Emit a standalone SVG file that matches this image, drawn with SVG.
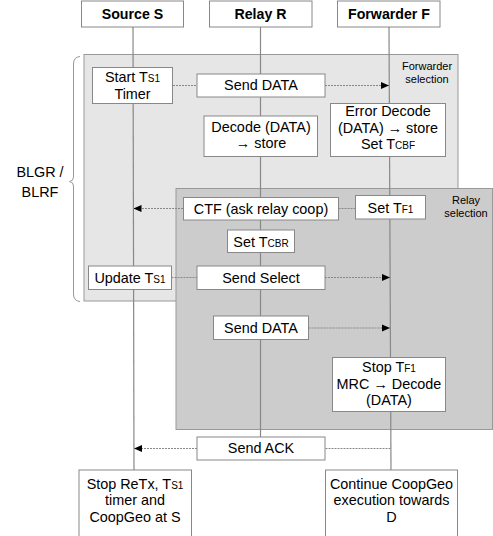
<svg xmlns="http://www.w3.org/2000/svg" width="493" height="536" viewBox="0 0 493 536">
<style>
text{font-family:"Liberation Sans",Arial,sans-serif;font-size:14.4px;fill:#000;text-anchor:middle}
.hdr{font-weight:bold;font-size:14.2px}
.sm{font-size:10px}
.lbl{font-size:11px}
.box{fill:#fff;stroke:#888;stroke-width:1}
.life{stroke:#888;stroke-width:1.2;fill:none}
.msg{stroke:#888;stroke-width:1;stroke-dasharray:2,1;fill:none}
</style>
<defs>
<marker id="ah" viewBox="0 0 8 8" refX="8" refY="4" markerWidth="8" markerHeight="8" markerUnits="userSpaceOnUse" orient="auto">
<path d="M0,0.5 L8,4 L0,7.5 Z" fill="#000"/>
</marker>
</defs>
<rect width="493" height="536" fill="#fff"/>
<g id="regions">
<rect x="84" y="54.5" width="374" height="246.5" fill="#e6e6e6" stroke="#999"/>
<rect x="176" y="188.5" width="316.5" height="241" fill="#cccccc" stroke="#999"/>
<text class="lbl" x="427" y="70">Forwarder</text>
<text class="lbl" x="427" y="83">selection</text>
<text class="lbl" x="466" y="204">Relay</text>
<text class="lbl" x="466" y="217">selection</text>
<path d="M80,56.5 Q73.5,57 73.5,64 L73.5,177 Q73.5,181 69.5,181.5 Q73.5,182 73.5,186 L73.5,294 Q73.5,301 80,301.5" fill="none" stroke="#999" stroke-width="1"/>
<text x="40" y="177">BLGR /</text>
<text x="40" y="197">BLRF</text>
</g>
<g id="connectors">
<line class="life" x1="133" y1="27" x2="134" y2="470"/>
<line class="life" x1="260.5" y1="27" x2="260.5" y2="437"/>
<line class="life" x1="389" y1="27" x2="391" y2="470"/>
<line class="msg" x1="173" y1="85.5" x2="197" y2="85.5"/>
<line class="msg" x1="325" y1="85.5" x2="389" y2="85.5" marker-end="url(#ah)"/>
<line class="msg" x1="355.5" y1="208.5" x2="338.5" y2="208.5"/>
<line class="msg" x1="183" y1="208.5" x2="133.5" y2="208.5" marker-end="url(#ah)"/>
<line class="msg" x1="171.5" y1="277.5" x2="197" y2="277.5"/>
<line class="msg" x1="325" y1="277.5" x2="390" y2="277.5" marker-end="url(#ah)"/>
<line class="msg" x1="308.5" y1="328" x2="390" y2="328" marker-end="url(#ah)"/>
<line class="msg" x1="390.5" y1="448.5" x2="325" y2="448.5"/>
<line class="msg" x1="197" y1="448.5" x2="134" y2="448.5" marker-end="url(#ah)"/>
</g>
<g id="source">
<rect class="box" x="81.5" y="1" width="102" height="26"/>
<text class="hdr" x="132.5" y="19">Source S</text>
</g>
<g id="relay">
<rect class="box" x="209.5" y="1" width="102.5" height="26"/>
<text class="hdr" x="260.5" y="19">Relay R</text>
</g>
<g id="forwarder">
<rect class="box" x="337.5" y="1" width="102.5" height="26"/>
<text class="hdr" x="389" y="19">Forwarder F</text>
</g>
<g id="start-ts1">
<rect class="box" x="92.5" y="67.5" width="80" height="36"/>
<text x="132.5" y="82">Start T<tspan class="sm">S1</tspan></text>
<text x="132.5" y="99">Timer</text>
</g>
<g id="send-data-1">
<rect class="box" x="197" y="74" width="128" height="23"/>
<text x="261" y="90">Send DATA</text>
</g>
<g id="decode-store">
<rect class="box" x="204" y="116" width="113.5" height="40.5"/>
<text x="261" y="132">Decode (DATA)</text>
<text x="261" y="148">→ store</text>
</g>
<g id="error-decode">
<rect class="box" x="330.5" y="103.5" width="115" height="53"/>
<text x="388" y="116">Error Decode</text>
<text x="388" y="133">(DATA) → store</text>
<text x="388" y="149">Set T<tspan class="sm">CBF</tspan></text>
</g>
<g id="ctf">
<rect class="box" x="183.5" y="197.5" width="155" height="22.5"/>
<text x="261" y="214">CTF (ask relay coop)</text>
</g>
<g id="set-tf1">
<rect class="box" x="355.5" y="195.5" width="70" height="23.5"/>
<text x="390.5" y="213">Set T<tspan class="sm">F1</tspan></text>
</g>
<g id="set-tcbr">
<rect class="box" x="227.5" y="230" width="67" height="22.5"/>
<text x="261" y="247">Set T<tspan class="sm">CBR</tspan></text>
</g>
<g id="update-ts1">
<rect class="box" x="88.5" y="266" width="83" height="23.5"/>
<text x="130" y="282.5">Update T<tspan class="sm">S1</tspan></text>
</g>
<g id="send-select">
<rect class="box" x="197" y="266" width="128" height="23.5"/>
<text x="261" y="282.5">Send Select</text>
</g>
<g id="send-data-2">
<rect class="box" x="213.5" y="316" width="95" height="23.5"/>
<text x="261" y="332.5">Send DATA</text>
</g>
<g id="stop-tf1">
<rect class="box" x="332.5" y="357.5" width="113" height="54"/>
<text x="389" y="372">Stop T<tspan class="sm">F1</tspan></text>
<text x="389" y="388.5">MRC → Decode</text>
<text x="389" y="405">(DATA)</text>
</g>
<g id="send-ack">
<rect class="box" x="197" y="437" width="128" height="23"/>
<text x="261" y="452.5">Send ACK</text>
</g>
<g id="stop-retx">
<rect class="box" x="79" y="470" width="112.5" height="70"/>
<text x="135" y="489">Stop ReTx, T<tspan class="sm">S1</tspan></text>
<text x="135" y="505">timer and</text>
<text x="135" y="521.5">CoopGeo at S</text>
</g>
<g id="continue">
<rect class="box" x="325.5" y="470" width="132" height="70"/>
<text x="391.5" y="489">Continue CoopGeo</text>
<text x="391.5" y="505">execution towards</text>
<text x="391.5" y="521.5">D</text>
</g>
</svg>
